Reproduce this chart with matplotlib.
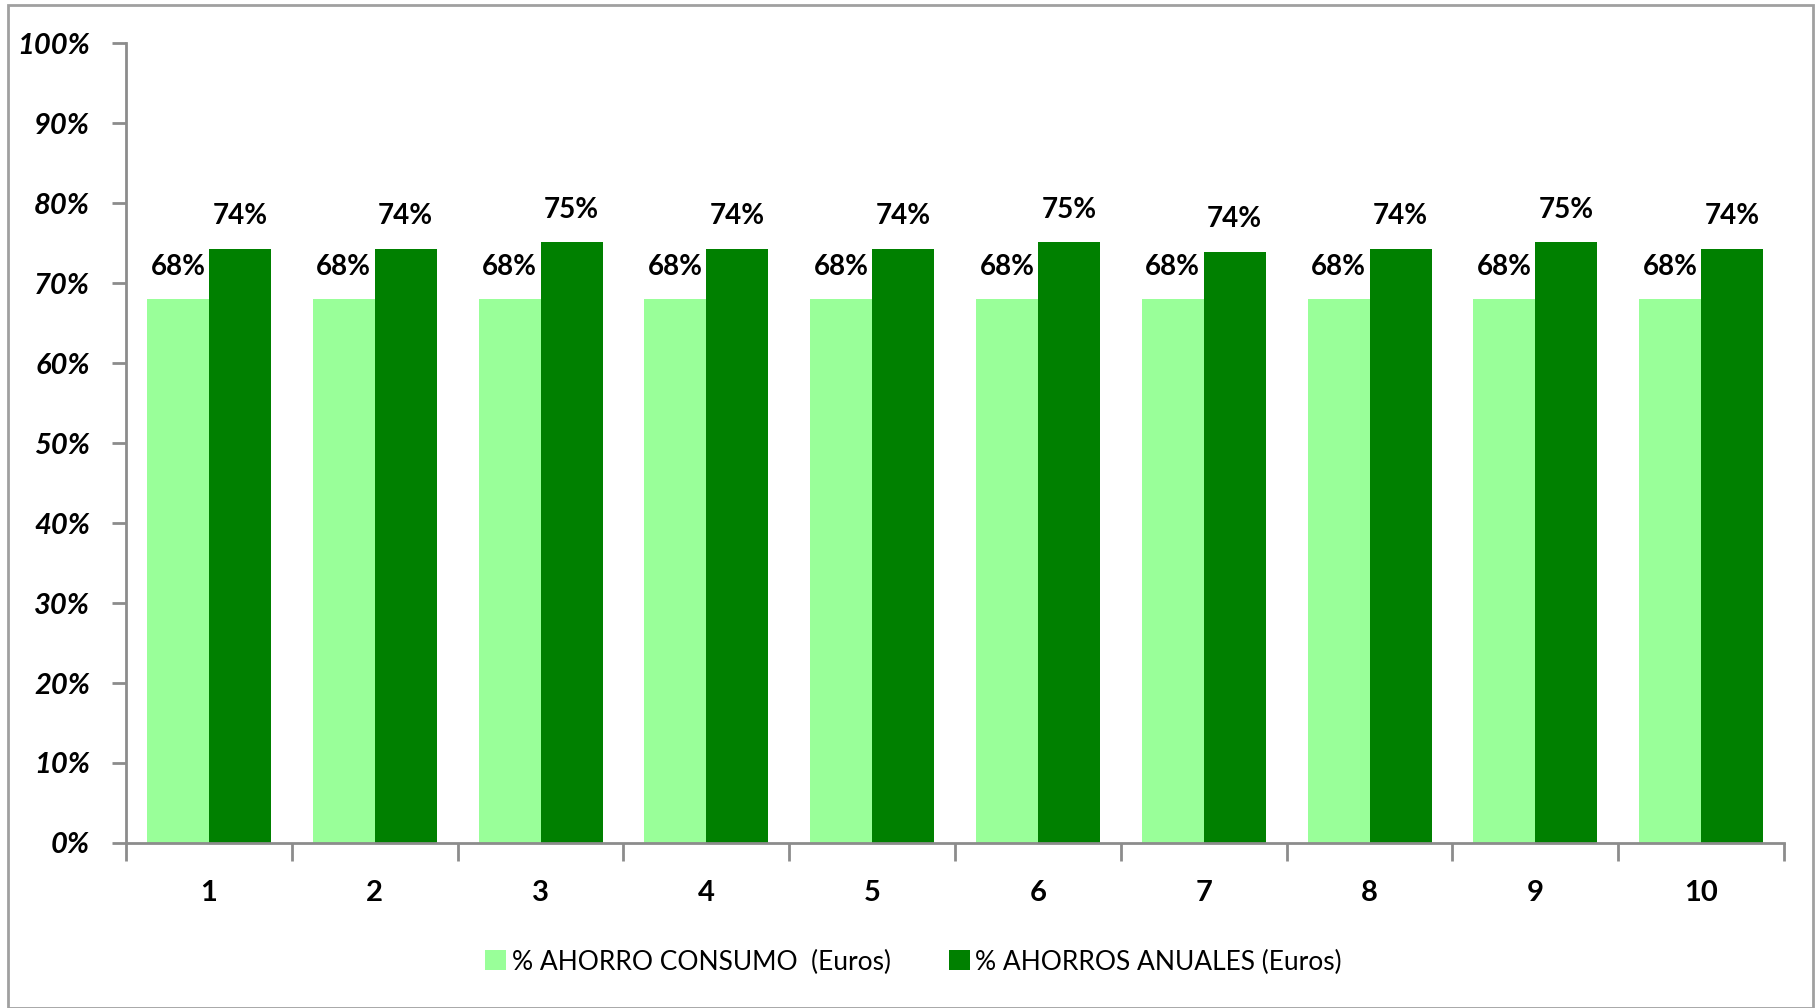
import numpy as np
import matplotlib.pyplot as plt
from matplotlib.patches import Rectangle
from matplotlib.ticker import FixedLocator, PercentFormatter

# Data
groups = ['1', '2', '3', '4', '5', '6', '7', '8', '9', '10']
consumo = [68.0, 68.0, 68.0, 68.0, 68.0, 68.0, 68.0, 68.0, 68.0, 68.0]
anuales = [74.3, 74.3, 75.1, 74.3, 74.3, 75.1, 73.9, 74.3, 75.1, 74.3]
series_names = ['% AHORRO CONSUMO  (Euros)', '% AHORROS ANUALES (Euros)']

light_green = '#99FF99'
dark_green = '#008000'
axis_gray = '#8c8c8c'
font = ['Lato', 'DejaVu Sans']

fig = plt.figure(figsize=(18.16, 10.08), dpi=100)
ax = fig.add_axes([0.0694, 0.1637, 0.913, 0.7936])

x = np.arange(len(groups))
w = 0.374
b1 = ax.bar(x - w / 2, consumo, w, color=light_green, label=series_names[0])
b2 = ax.bar(x + w / 2, anuales, w, color=dark_green, label=series_names[1])

# Value labels above each bar
for bars in (b1, b2):
    for rect in bars:
        h = rect.get_height()
        ax.annotate(f'{h:.0f}%', (rect.get_x() + rect.get_width() / 2, h),
                    xytext=(0, 14), textcoords='offset points',
                    ha='center', va='bottom', fontsize=20, fontweight='bold',
                    family=font)

ax.set_xlim(-0.5, len(groups) - 0.5)
ax.set_ylim(0, 100)
ax.yaxis.set_major_locator(FixedLocator(np.arange(0, 101, 10)))
ax.yaxis.set_major_formatter(PercentFormatter(decimals=0))

ax.set_xticks(x)
ax.set_xticklabels(groups)
ax.xaxis.set_minor_locator(FixedLocator(np.arange(-0.5, len(groups), 1)))
ax.tick_params(axis='x', which='major', length=0, pad=27)
ax.tick_params(axis='x', which='minor', length=13, width=2, color=axis_gray)
ax.tick_params(axis='y', length=10, width=2, color=axis_gray, pad=16)

for lab in ax.get_xticklabels():
    lab.set_fontsize(21)
    lab.set_fontweight('bold')
    lab.set_family(font)
for lab in ax.get_yticklabels():
    lab.set_fontsize(21)
    lab.set_fontweight('bold')
    lab.set_fontstyle('italic')
    lab.set_family(font)

for side in ('top', 'right'):
    ax.spines[side].set_visible(False)
for side in ('left', 'bottom'):
    ax.spines[side].set_color(axis_gray)
    ax.spines[side].set_linewidth(2)

leg = fig.legend(loc='center', bbox_to_anchor=(0.503, 1 - 962 / 1008), ncol=2,
                 frameon=False, handlelength=0.8, handleheight=0.8,
                 handletextpad=0.2, columnspacing=2.2,
                 prop={'family': font, 'size': 19})

# Outer chart border
fig.patches.append(Rectangle((8 / 1816, 0), 1805 / 1816, 1 - 5 / 1008,
                             transform=fig.transFigure, fill=False,
                             edgecolor='#a0a0a0', linewidth=2))

fig.savefig('out.png', dpi=100)
